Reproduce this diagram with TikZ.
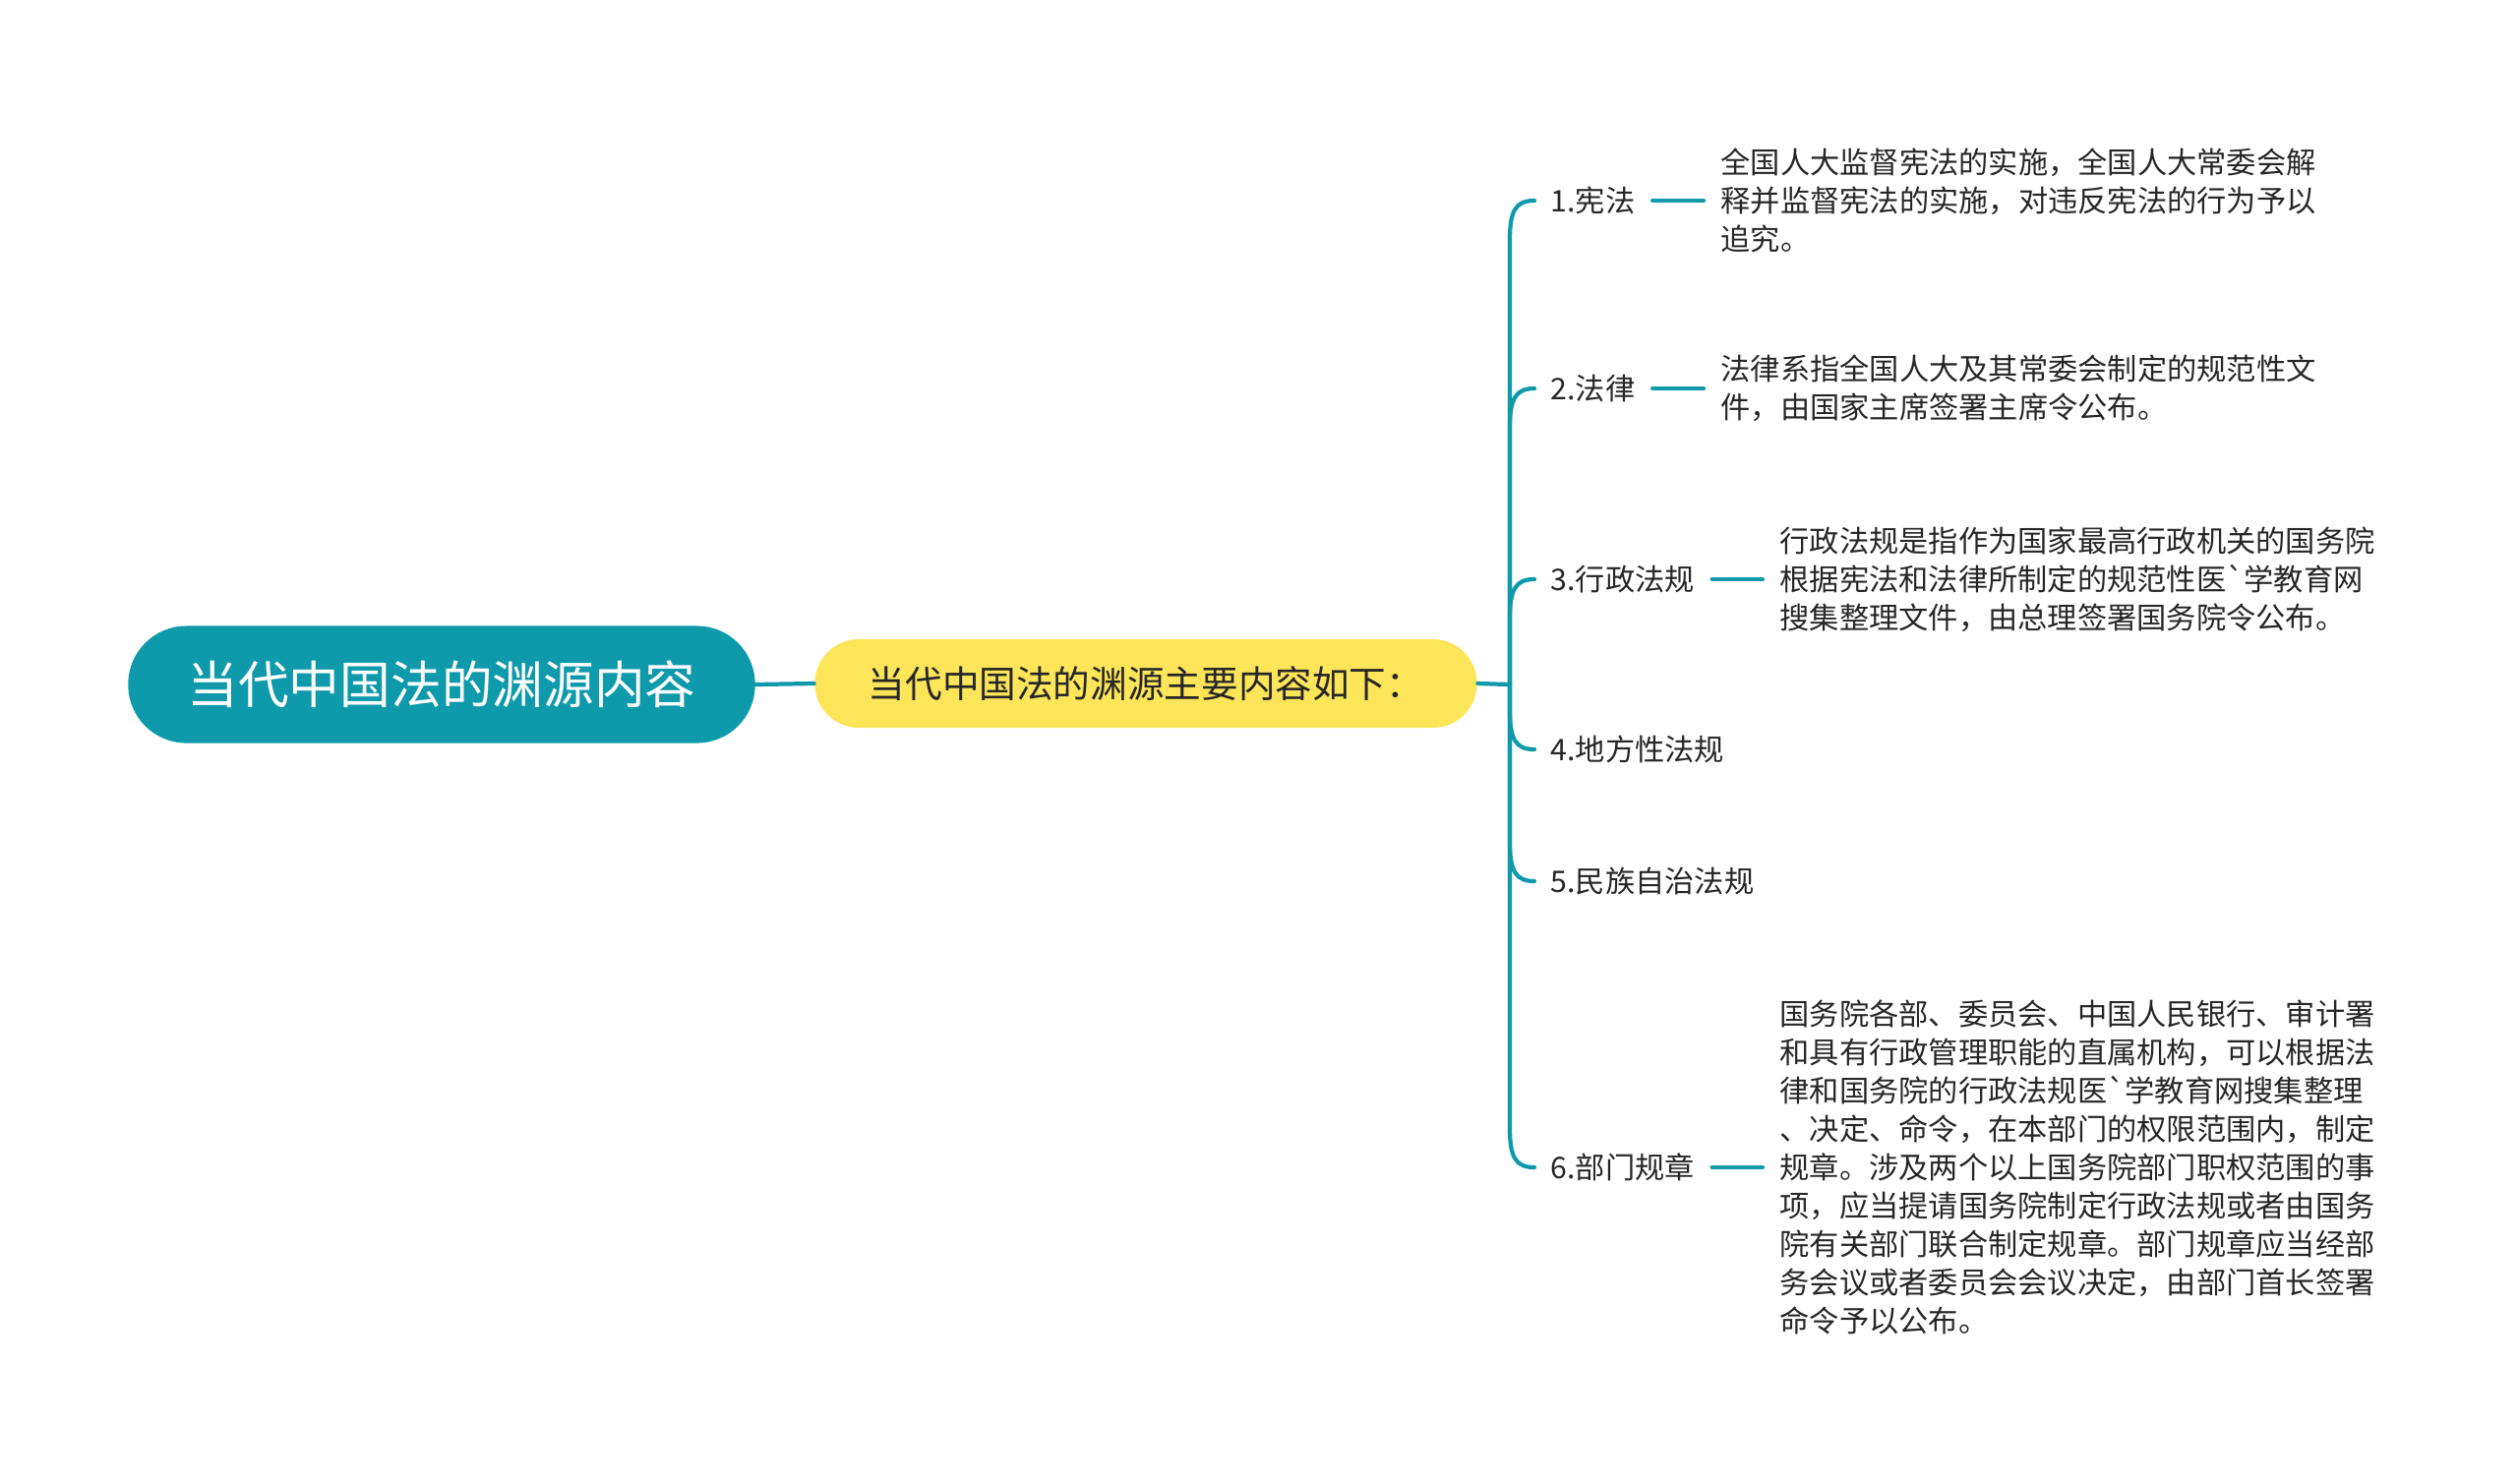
\documentclass[tikz,border=0pt]{standalone}
\usepackage{fontspec}
\setmainfont{Noto Sans CJK SC}
\usetikzlibrary{positioning,calc}
\definecolor{tealline}{RGB}{14,154,171}
\definecolor{yellfill}{RGB}{253,229,90}
\definecolor{txtgray}{RGB}{38,38,38}

\begin{document}
\begin{tikzpicture}[x=0.01cm,y=-0.01cm]
	\tikzset{rootbox/.style={fill=tealline, text=white, rounded corners=0.59cm, minimum width=6.37cm, minimum height=1.19cm, inner sep=0pt, font=\fontsize{14.7}{17}\selectfont},
		subbox/.style={fill=yellfill, text=txtgray, rounded corners=0.45cm, minimum width=6.73cm, minimum height=0.90cm, inner sep=0pt, font=\fontsize{10.7}{13}\selectfont},
		leaf/.style={anchor=west, inner sep=0pt, text=txtgray, font=\fontsize{8.6}{11.1}\selectfont},
		desc/.style={leaf, align=left},
		branch/.style={draw=tealline, line width=1.2pt, line cap=round}}
	\useasboundingbox (0,0) rectangle (2560,1508);
	% main nodes
	\node[rootbox] (root) at (449,696) {当代中国法的渊源内容};
	\node[subbox] (sub) at (1165,695) {当代中国法的渊源主要内容如下：};
	\draw[branch] (root.east) -- (sub.west);
	\coordinate (sp) at (1535,696);
	\draw[branch] (sub.east) -- (sp);

	% children
	\node[leaf] (b1) at (1576,204) {1.宪法};
	\node[leaf] (b2) at (1576,395) {2.法律};
	\node[leaf] (b3) at (1576,589) {3.行政法规};
	\node[leaf] (b4) at (1576,762) {4.地方性法规};
	\node[leaf] (b5) at (1576,896) {5.民族自治法规};
	\node[leaf] (b6) at (1576,1187) {6.部门规章};

	\foreach \n/\s in {1/1,2/1,3/1,4/-1,5/-1,6/-1}{
		\draw[branch] (sp) -- ($(sp |- b\n.west)+(0,40*\s)$)
			.. controls ($(sp |- b\n.west)+(0,10*\s)$) and ($(b\n.west)+(-35,0)$) .. ($(b\n.west)+(-16,0)$);
	}

	% descriptions
	\node[desc] (d1) at (1749,204) {全国人大监督宪法的实施，全国人大常委会解\\释并监督宪法的实施，对违反宪法的行为予以\\追究。};
	\node[desc] (d2) at (1749,395) {法律系指全国人大及其常委会制定的规范性文\\件，由国家主席签署主席令公布。};
	\node[desc] (d3) at (1809,589) {行政法规是指作为国家最高行政机关的国务院\\根据宪法和法律所制定的规范性医\textasciigrave 学教育网\\搜集整理文件，由总理签署国务院令公布。};
	\node[desc] (d6) at (1809,1187) {国务院各部、委员会、中国人民银行、审计署\\和具有行政管理职能的直属机构，可以根据法\\律和国务院的行政法规医\textasciigrave 学教育网搜集整理\\、决定、命令，在本部门的权限范围内，制定\\规章。涉及两个以上国务院部门职权范围的事\\项，应当提请国务院制定行政法规或者由国务\\院有关部门联合制定规章。部门规章应当经部\\务会议或者委员会会议决定，由部门首长签署\\命令予以公布。};

	\foreach \n in {1,2,3,6}{
		\draw[branch] ([xshift=0.17cm]b\n.east) -- ([xshift=-0.17cm]d\n.west);
	}
\end{tikzpicture}
\end{document}
